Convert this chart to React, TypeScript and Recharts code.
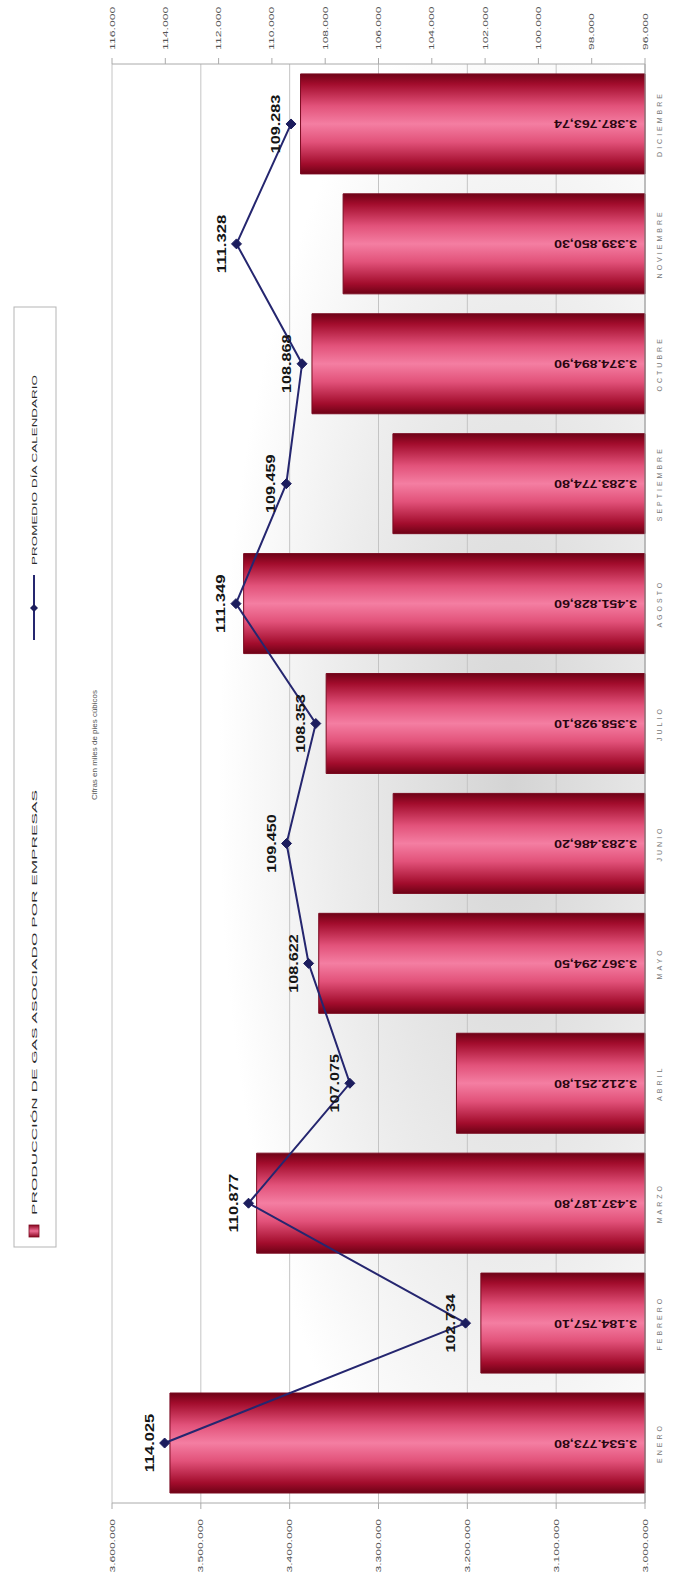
import React from 'react';
import { ComposedChart, Bar, Line, XAxis, YAxis, CartesianGrid, LabelList } from 'recharts';

const months = ['ENERO', 'FEBRERO', 'MARZO', 'ABRIL', 'MAYO', 'JUNIO', 'JULIO', 'AGOSTO', 'SEPTIEMBRE', 'OCTUBRE', 'NOVIEMBRE', 'DICIEMBRE'];
const produccion = [3534773.8, 3184757.1, 3437187.8, 3212251.8, 3367294.5, 3283486.2, 3358928.1, 3451828.6, 3283774.8, 3374894.9, 3339850.3, 3387763.74];
const promedio = [114025, 102734, 110877, 107075, 108622, 109450, 108353, 111349, 109459, 108868, 111328, 109283];
const barTicks = [3000000, 3100000, 3200000, 3300000, 3400000, 3500000, 3600000];
const lineTicks = [96000, 98000, 100000, 102000, 104000, 106000, 108000, 110000, 112000, 114000, 116000];
const legendBarName = 'PRODUCCIÓN DE GAS ASOCIADO POR  EMPRESAS';
const legendLineName = 'PROMEDIO DÍA CALENDARIO';
const subtitle = 'Cifras en miles de pies cúbicos';

const data = months.map((m, i) => ({ mes: m, produccion: produccion[i], promedio: promedio[i] }));

const W = 1573;
const H = 676;
const FONT = '"Liberation Sans", Arial, sans-serif';

const groupDots = (s: string) => s.replace(/\B(?=(\d{3})+(?!\d))/g, '.');
const fmtInt = (v: number) => groupDots(Math.round(v).toString());
const fmtDec = (v: number) => {
  const [i, d] = v.toFixed(2).split('.');
  return groupDots(i) + ',' + d;
};

// approximate natural width (em) of a numeric string in Arial-metric fonts
const numWidthEm = (s: string) =>
  s.split('').reduce((acc, c) => acc + (c === '.' || c === ',' ? 0.278 : 0.556), 0);

const BarValueLabel = (props: any) => {
  const { x, y, width, height, value } = props;
  const cx = Number(x) + Number(width) / 2;
  const by = Number(y) + Number(height) - 8;
  const txt = fmtDec(Number(value));
  return (
    <text
      x={cx}
      y={by}
      transform={`rotate(-90 ${cx} ${by})`}
      textAnchor="start"
      dominantBaseline="central"
      fontSize={10}
      fontWeight="bold"
      textLength={numWidthEm(txt) * 10 * 1.42}
      lengthAdjust="spacingAndGlyphs"
      fill="#2a0610"
      fontFamily={FONT}
    >
      {txt}
    </text>
  );
};

const LineValueLabel = (props: any) => {
  const { x, y, value } = props;
  const txt = fmtInt(Number(value));
  return (
    <text
      x={Number(x)}
      y={Number(y) - 11}
      textAnchor="middle"
      fontSize={12}
      fontWeight="bold"
      textLength={numWidthEm(txt) * 12 * 1.35}
      lengthAdjust="spacingAndGlyphs"
      fill="#151515"
      fontFamily={FONT}
    >
      {txt}
    </text>
  );
};

const DiamondDot = (props: any) => {
  const { cx, cy } = props;
  if (cx == null || cy == null) return null;
  const s = 5;
  return (
    <path
      d={`M${cx},${cy - s} L${cx + s},${cy} L${cx},${cy + s} L${cx - s},${cy} Z`}
      fill="#1c1d5e"
      stroke="#1c1d5e"
    />
  );
};

const MonthTick = (props: any) => {
  const { x, y, payload } = props;
  return (
    <text
      x={x}
      y={y + 9}
      textAnchor="middle"
      fontSize={7}
      letterSpacing={3}
      fill="#777"
      fontFamily={FONT}
    >
      {payload.value}
    </text>
  );
};

const makeValueTick = (anchor: 'start' | 'end', dx: number) => (props: any) => {
  const { x, y, payload } = props;
  const txt = fmtInt(Number(payload.value));
  return (
    <text
      x={Number(x) + dx}
      y={Number(y)}
      textAnchor={anchor}
      dominantBaseline="central"
      fontSize={8}
      fill="#555"
      fontFamily={FONT}
      textLength={numWidthEm(txt) * 8 * 1.5}
      lengthAdjust="spacingAndGlyphs"
    >
      {txt}
    </text>
  );
};

const LeftTick = makeValueTick('end', -2);
const RightTick = makeValueTick('start', 2);

export default function App() {
  return (
    <div
      style={{
        position: 'absolute',
        left: 0,
        top: 0,
        width: W,
        height: H,
        background: '#ffffff',
        transformOrigin: '0 0',
        transform: `translateY(${W}px) rotate(-90deg)`,
        fontFamily: FONT,
      }}
    >
      <ComposedChart width={W} height={H} data={data} margin={{ top: 112, right: 0, bottom: 0, left: 0 }}>
        <defs>
          <linearGradient id="barGrad" x1="0" y1="0" x2="1" y2="0">
            <stop offset="0" stopColor="#6e0216" />
            <stop offset="0.1" stopColor="#a20c2c" />
            <stop offset="0.32" stopColor="#e2527a" />
            <stop offset="0.5" stopColor="#f47ea2" />
            <stop offset="0.68" stopColor="#e2527a" />
            <stop offset="0.9" stopColor="#a20c2c" />
            <stop offset="1" stopColor="#6e0216" />
          </linearGradient>
          <radialGradient id="bgGrad" cx="0.5" cy="0.75" r="0.55">
            <stop offset="0" stopColor="#d4d4d4" />
            <stop offset="0.6" stopColor="#ececec" />
            <stop offset="1" stopColor="#ffffff" />
          </radialGradient>
        </defs>
        <CartesianGrid
          yAxisId="bar"
          vertical={false}
          stroke="#c4c4c4"
          fill="url(#bgGrad)"
          fillOpacity={1}
        />
        <XAxis
          dataKey="mes"
          height={31}
          tickLine={false}
          axisLine={{ stroke: '#9a9a9a' }}
          tick={<MonthTick />}
          interval={0}
        />
        <YAxis
          yAxisId="bar"
          width={70}
          domain={[3000000, 3600000]}
          ticks={barTicks}
          tickMargin={8}
          axisLine={{ stroke: '#aaaaaa' }}
          tickLine={{ stroke: '#aaaaaa' }}
          tick={<LeftTick />}
        />
        <YAxis
          yAxisId="line"
          orientation="right"
          width={64}
          domain={[96000, 116000]}
          ticks={lineTicks}
          tickMargin={6}
          axisLine={{ stroke: '#aaaaaa' }}
          tickLine={{ stroke: '#aaaaaa' }}
          tick={<RightTick />}
        />
        <Bar
          yAxisId="bar"
          dataKey="produccion"
          barSize={100}
          fill="url(#barGrad)"
          stroke="#7a0a20"
          strokeWidth={1}
          isAnimationActive={false}
        >
          <LabelList dataKey="produccion" content={<BarValueLabel />} />
        </Bar>
        <Line
          yAxisId="line"
          type="linear"
          dataKey="promedio"
          stroke="#25266f"
          strokeWidth={2}
          dot={<DiamondDot />}
          activeDot={false}
          isAnimationActive={false}
        >
          <LabelList dataKey="promedio" content={<LineValueLabel />} />
        </Line>
      </ComposedChart>
      <svg
        width={W}
        height={H}
        style={{ position: 'absolute', left: 0, top: 0, pointerEvents: 'none' }}
      >
        <defs>
          <linearGradient id="swatchGrad" x1="0" y1="0" x2="1" y2="0">
            <stop offset="0" stopColor="#8a0620" />
            <stop offset="0.5" stopColor="#ee6d94" />
            <stop offset="1" stopColor="#8a0620" />
          </linearGradient>
        </defs>
        <rect x={326} y={14} width={940} height={42} fill="#ffffff" stroke="#b5b5b5" strokeWidth={1} />
        <rect x={336} y={29} width={12} height={10} fill="url(#swatchGrad)" stroke="#7a0a20" strokeWidth={0.8} />
        <text
          x={358}
          y={37}
          fontSize={8}
          fill="#2a2a2a"
          fontFamily={FONT}
          textLength={425}
          lengthAdjust="spacingAndGlyphs"
        >
          {legendBarName}
        </text>
        <line x1={933} y1={34} x2={998} y2={34} stroke="#25266f" strokeWidth={2} />
        <path d="M965,30 L969,34 L965,38 L961,34 Z" fill="#1c1d5e" />
        <text
          x={1008}
          y={37}
          fontSize={8}
          fill="#2a2a2a"
          fontFamily={FONT}
          textLength={190}
          lengthAdjust="spacingAndGlyphs"
        >
          {legendLineName}
        </text>
        <text
          x={773}
          y={97}
          fontSize={7.5}
          fill="#555"
          fontFamily={FONT}
          textLength={110}
          lengthAdjust="spacingAndGlyphs"
        >
          {subtitle}
        </text>
      </svg>
    </div>
  );
}
